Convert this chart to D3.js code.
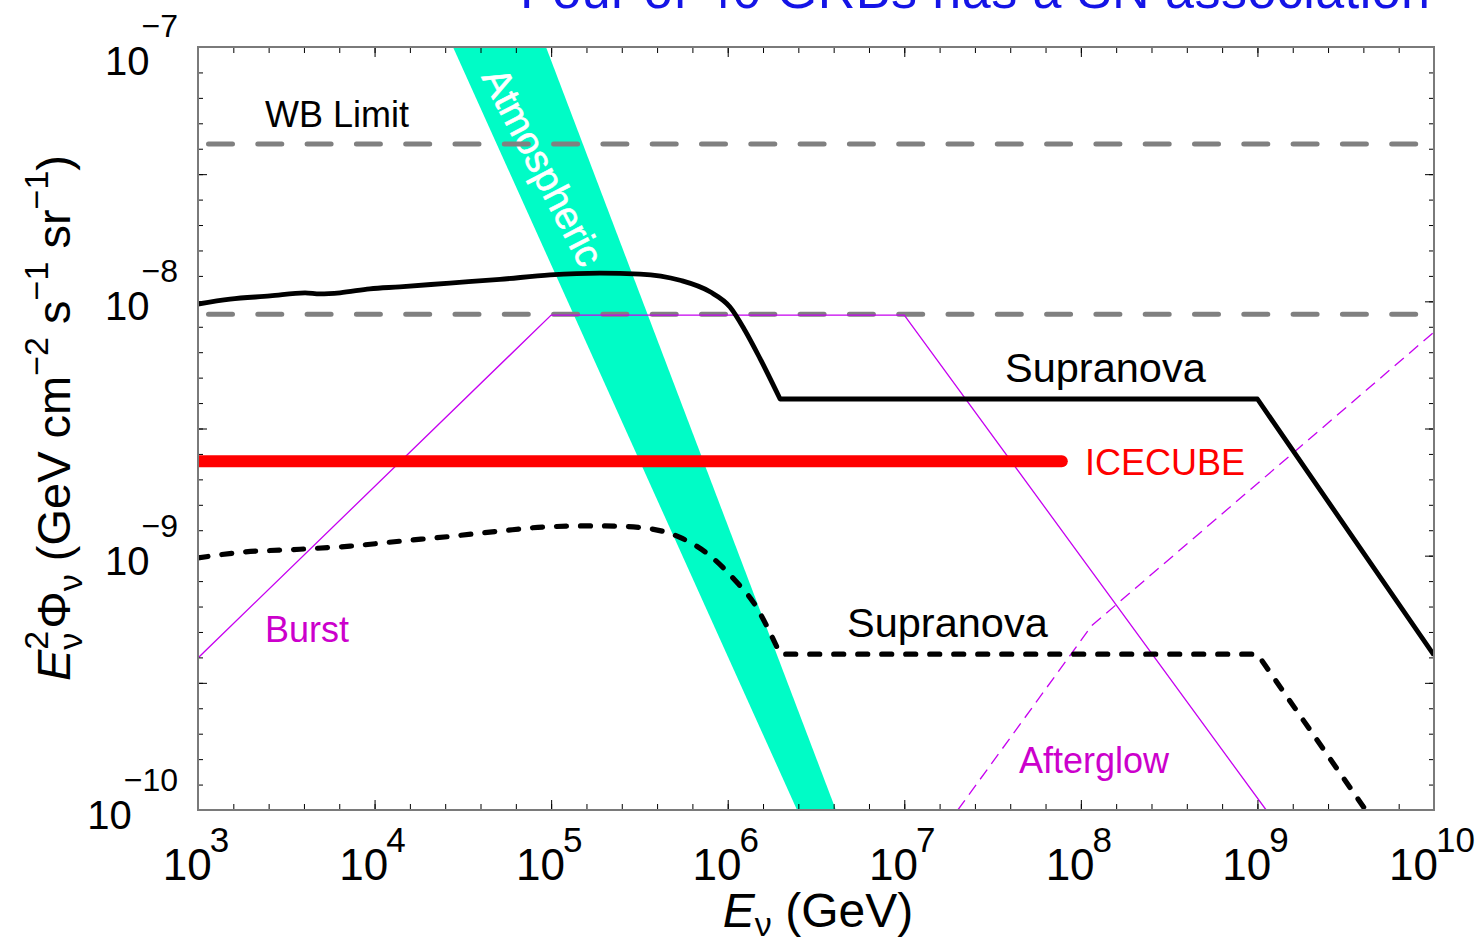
<!DOCTYPE html>
<html>
<head>
<meta charset="utf-8">
<script src="https://cdn.jsdelivr.net/npm/d3@7"></script>
<style>
  body { margin: 0; background: #fff; }
  svg text { font-family: "Liberation Sans", Arial, Helvetica, sans-serif; }
</style>
</head>
<body>
<script>
// values (E in GeV, E^2 Phi in GeV cm^-2 s^-1 sr^-1)
const supranovaBump = [
  [1e3, 9.76e-9], [1.52e3, 1.02e-8], [2.56e3, 1.05e-8], [4.04e3, 1.08e-8],
  [4.9e3, 1.07e-8], [6.37e3, 1.08e-8], [9.4e3, 1.12e-8], [1.39e4, 1.14e-8],
  [2.67e4, 1.18e-8], [5.13e4, 1.22e-8], [9.86e4, 1.27e-8], [1.89e5, 1.29e-8],
  [3.19e5, 1.28e-8], [5.37e5, 1.21e-8], [7.94e5, 1.09e-8], [1.03e6, 9.5e-9],
  [1.25e6, 7.7e-9], [1.52e6, 5.98e-9], [1.98e6, 4.13e-9]
]
const supranovaTail = [[1.98e6, 4.13e-9], [1e9, 4.13e-9], [1e10, 4.06e-10]]

const supranovaLowBump = [
  [1e3, 9.8e-10], [1.73e3, 1.03e-9], [3.78e3, 1.06e-9], [7.26e3, 1.09e-9],
  [1.39e4, 1.14e-9], [2.67e4, 1.19e-9], [5.13e4, 1.25e-9], [9.86e4, 1.3e-9],
  [1.89e5, 1.31e-9], [3.19e5, 1.29e-9], [5.37e5, 1.18e-9], [7.94e5, 1.0e-9],
  [1.1e6, 8.0e-10], [1.43e6, 6.4e-10], [1.74e6, 4.97e-10], [1.98e6, 4.1e-10]
]
const supranovaLowTail = [[1.98e6, 4.1e-10], [1e9, 4.1e-10], [1e10, 4.1e-11]]

const burst = [[1e3, 3.96e-10], [1e5, 8.83e-9], [1e7, 8.83e-9], [1.12e9, 1e-10]]
const afterglow = [[2.01e7, 1e-10], [1.15e8, 5.3e-10], [1e10, 7.57e-9]]

const icecube = [[1e3, 2.35e-9], [7.8e7, 2.35e-9]]
const wbLimits = [4.16e-8, 8.9e-9]

// atmospheric band: high-flux edge and low-flux edge
const atmoHigh = [[9.35e4, 1e-7], [4.1e6, 1e-10]]
const atmoLow = [[2.78e4, 1e-7], [2.47e6, 1e-10]]

const xDecades = [3, 4, 5, 6, 7, 8, 9, 10]
const yDecades = [-7, -8, -9, -10]

const W = 1479, H = 945
const plot = { left: 198, right: 1434, top: 47, bottom: 810 }

const svg = d3.select('body').append('svg')
  .attr('width', W)
  .attr('height', H)

const x = d3.scaleLog()
  .domain([1e3, 1e10])
  .range([plot.left, plot.right])

const y = d3.scaleLog()
  .domain([1e-10, 1e-7])
  .range([plot.bottom, plot.top])

svg.append('clipPath')
    .attr('id', 'clip')
  .append('rect')
    .attr('x', plot.left)
    .attr('y', plot.top)
    .attr('width', plot.right - plot.left)
    .attr('height', plot.bottom - plot.top)

// title, mostly cut off at the top edge
svg.append('text')
  .attr('x', 520)
  .attr('y', 8)
  .attr('fill', '#1414e6')
  .attr('font-size', 52)
  .attr('textLength', 910)
  .text('Four of 40 GRBs has a SN association')

let line = d3.line()
  .x((d) => x(d[0]))
  .y((d) => y(d[1]))

let smooth = d3.line()
  .x((d) => x(d[0]))
  .y((d) => y(d[1]))
  .curve(d3.curveMonotoneX)

let g = svg.append('g')
  .attr('clip-path', 'url(#clip)')

// atmospheric band
g.append('path')
  .attr('fill', '#00fcc6')
  .attr('d', line(atmoHigh.concat(atmoLow.slice().reverse())) + 'Z')

g.append('text')
  .attr('transform', 'translate(543,167) rotate(62.5)')
  .attr('text-anchor', 'middle')
  .attr('dominant-baseline', 'central')
  .attr('fill', '#fff')
  .attr('font-size', 39)
  .attr('stroke', '#fff')
  .attr('stroke-width', 0.6)
  .text('Atmospheric')

// WB limits
g.selectAll('.wb')
    .data(wbLimits)
  .enter().append('line')
    .attr('class', 'wb')
    .attr('x1', plot.left)
    .attr('x2', plot.right + 4)
    .attr('y1', y)
    .attr('y2', y)
    .attr('stroke', '#808080')
    .attr('stroke-width', 5)
    .attr('stroke-linecap', 'round')
    .attr('stroke-dasharray', '24 25.3')
    .attr('stroke-dashoffset', 38.8)

// burst and afterglow
g.append('path')
  .attr('fill', 'none')
  .attr('stroke', '#c600f0')
  .attr('stroke-width', 1.3)
  .attr('d', line(burst))

g.append('path')
  .attr('fill', 'none')
  .attr('stroke', '#c600f0')
  .attr('stroke-width', 1.3)
  .attr('stroke-dasharray', '12 7')
  .attr('d', line(afterglow))

// icecube
g.append('path')
  .attr('fill', 'none')
  .attr('stroke', '#ff0000')
  .attr('stroke-width', 12)
  .attr('stroke-linecap', 'round')
  .attr('d', line(icecube))

// supranova curves
g.append('path')
  .attr('fill', 'none')
  .attr('stroke', '#000')
  .attr('stroke-width', 4.8)
  .attr('stroke-linejoin', 'round')
  .attr('d', smooth(supranovaBump) + line(supranovaTail).replace(/^M/, 'L'))

g.append('path')
  .attr('fill', 'none')
  .attr('stroke', '#000')
  .attr('stroke-width', 5.2)
  .attr('stroke-linecap', 'round')
  .attr('stroke-linejoin', 'round')
  .attr('stroke-dasharray', '10 14')
  .attr('d', smooth(supranovaLowBump) + line(supranovaLowTail).replace(/^M/, 'L'))

// labels inside the plot
let labels = [
  { t: 'WB Limit', x: 265, y: 127, c: '#000', s: 36 },
  { t: 'Supranova', x: 1005, y: 382, c: '#000', s: 41.5 },
  { t: 'Supranova', x: 847, y: 637, c: '#000', s: 41.5 },
  { t: 'ICECUBE', x: 1085, y: 475, c: '#ff0000', s: 36 },
  { t: 'Burst', x: 265, y: 642, c: '#cc00cc', s: 36 },
  { t: 'Afterglow', x: 1019, y: 773, c: '#cc00cc', s: 36 }
]
svg.selectAll('.lbl')
    .data(labels)
  .enter().append('text')
    .attr('class', 'lbl')
    .attr('x', (d) => d.x)
    .attr('y', (d) => d.y)
    .attr('fill', (d) => d.c)
    .attr('font-size', (d) => d.s)
    .text((d) => d.t)

// axes / frame
let xMinor = d3.range(3, 10.001, 0.2).map((e) => Math.pow(10, e))
let yMinor = d3.range(-10, -6.999, 0.1).map((e) => Math.pow(10, e))
let xMajor = xDecades.map((e) => Math.pow(10, e))
let yMajor = d3.range(-10, -6.999, 0.5).map((e) => Math.pow(10, e))

function frameAxis(axisFn, scale, values, size, transform) {
  let a = svg.append('g')
    .attr('transform', transform)
    .call(axisFn(scale).tickValues(values).tickSize(-size).tickSizeOuter(0).tickFormat(''))
  a.select('.domain').remove()
  a.selectAll('line').attr('stroke', '#000').attr('stroke-width', 1)
  return a
}

frameAxis(d3.axisBottom, x, xMinor, 6, 'translate(0,' + plot.bottom + ')')
frameAxis(d3.axisBottom, x, xMajor, 10, 'translate(0,' + plot.bottom + ')')
frameAxis(d3.axisTop, x, xMinor, 6, 'translate(0,' + plot.top + ')')
frameAxis(d3.axisTop, x, xMajor, 10, 'translate(0,' + plot.top + ')')
frameAxis(d3.axisLeft, y, yMinor, 5, 'translate(' + plot.left + ',0)')
frameAxis(d3.axisLeft, y, yMajor, 9, 'translate(' + plot.left + ',0)')
frameAxis(d3.axisRight, y, yMinor, 5, 'translate(' + plot.right + ',0)')
frameAxis(d3.axisRight, y, yMajor, 9, 'translate(' + plot.right + ',0)')

svg.append('rect')
  .attr('x', plot.left)
  .attr('y', plot.top)
  .attr('width', plot.right - plot.left)
  .attr('height', plot.bottom - plot.top)
  .attr('fill', 'none')
  .attr('stroke', '#7a7a7a')
  .attr('stroke-width', 2)

// tick labels
let xl = svg.selectAll('.xl')
    .data(xDecades)
  .enter().append('text')
    .attr('class', 'xl')
    .attr('x', (d) => x(Math.pow(10, d)) - 2)
    .attr('y', 880)
    .attr('text-anchor', 'middle')
    .attr('font-size', 44)
xl.append('tspan').text('10')
xl.append('tspan').attr('dx', -2).attr('dy', -28).attr('font-size', 35).text((d) => d)

let yl = svg.selectAll('.yl')
    .data(yDecades)
  .enter().append('text')
    .attr('class', 'yl')
    .attr('x', 178)
    .attr('y', (d) => Math.max(y(Math.pow(10, d)) + 19, 75))
    .attr('text-anchor', 'end')
    .attr('font-size', 40)
yl.append('tspan').text('10')
yl.append('tspan').attr('dx', -8).attr('dy', -38).attr('font-size', 32).text((d) => '\u2212' + (-d))

// axis titles
let xt = svg.append('text')
  .attr('x', 818)
  .attr('y', 927)
  .attr('text-anchor', 'middle')
  .attr('font-size', 48)
xt.append('tspan').attr('font-style', 'italic').text('E')
xt.append('tspan').attr('dy', 9).attr('font-size', 34).text('\u03bd')
xt.append('tspan').attr('dy', -9).text(' (GeV)')

let yt = svg.append('text')
  .attr('transform', 'translate(70,418) rotate(-90)')
  .attr('text-anchor', 'middle')
  .attr('font-size', 47)
yt.append('tspan').attr('font-style', 'italic').text('E')
yt.append('tspan').attr('dy', -22).attr('font-size', 34).text('2')
yt.append('tspan').attr('dx', -19).attr('dy', 34).attr('font-size', 34).text('\u03bd')
yt.append('tspan').attr('dx', 4).attr('dy', -12).text('\u03a6')
yt.append('tspan').attr('dy', 12).attr('font-size', 34).text('\u03bd')
yt.append('tspan').attr('dy', -12).text('  (GeV cm')
yt.append('tspan').attr('dy', -22).attr('font-size', 34).text('\u22122')
yt.append('tspan').attr('dy', 22).text(' s')
yt.append('tspan').attr('dy', -22).attr('font-size', 34).text('\u22121')
yt.append('tspan').attr('dy', 22).text(' sr')
yt.append('tspan').attr('dy', -22).attr('font-size', 34).text('\u22121')
yt.append('tspan').attr('dy', 22).text(')')
</script>
</body>
</html>
